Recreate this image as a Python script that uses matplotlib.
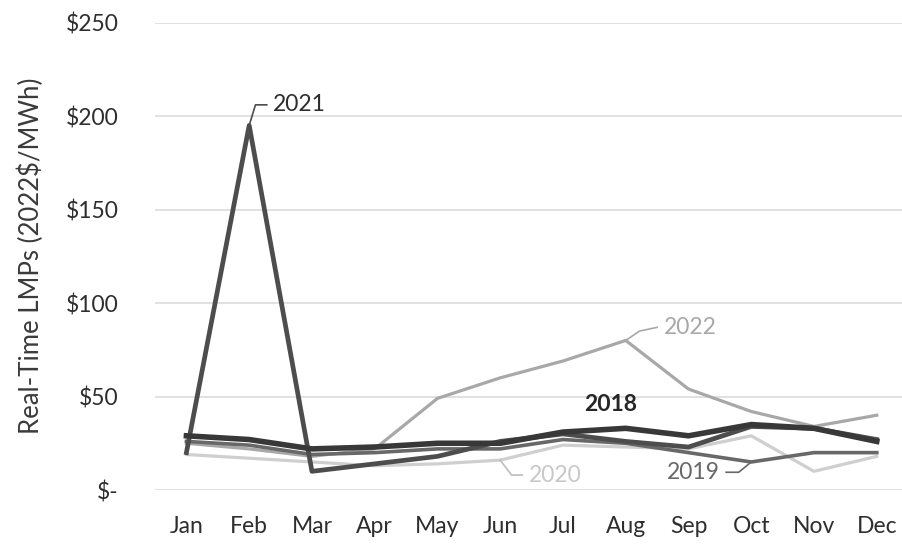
import matplotlib
matplotlib.use("Agg")
import matplotlib.pyplot as plt

plt.rcParams['font.family'] = ['Lato', 'DejaVu Sans']

months = ["Jan", "Feb", "Mar", "Apr", "May", "Jun",
          "Jul", "Aug", "Sep", "Oct", "Nov", "Dec"]

lmp_2018 = [29, 27, 22, 23, 25, 25, 31, 33, 29, 35, 33, 26]
lmp_2019 = [26, 24, 19, 20, 22, 22, 27, 25, 20, 15, 20, 20]
lmp_2020 = [19, 17, 15, 13, 14, 16, 24, 23, 22, 29, 10, 18]
lmp_2021 = [20, 195, 10, 14, 18, 26, 30, 26, 23, 34, 33, 27]
lmp_2022 = [25, 22, 18, 22, 49, 60, 69, 80, 54, 42, 34, 40]

y_ticks = [0, 50, 100, 150, 200, 250]
y_tick_labels = ["$-", "$50", "$100", "$150", "$200", "$250"]

fig = plt.figure(figsize=(9.03, 5.48), dpi=100)
ax = fig.add_axes([0.1717, 0.1058, 0.834, 0.853])

x = list(range(len(months)))

# lighter series first so darker ones sit on top
ax.plot(x, lmp_2020, color="#cfcfcf", lw=2.3, solid_joinstyle="round", zorder=3)
ax.plot(x, lmp_2022, color="#a8a8a8", lw=2.3, solid_joinstyle="round", zorder=4)
ax.plot(x, lmp_2019, color="#686868", lw=2.6, solid_joinstyle="round", zorder=5)
ax.plot(x, lmp_2021, color="#4d4d4d", lw=3.4, solid_joinstyle="round", zorder=6)
ax.plot(x, lmp_2018, color="#383838", lw=4.0, solid_joinstyle="round", zorder=7)

ax.set_xlim(-0.5, 11.5)
ax.set_ylim(0, 250)
ax.set_xticks(x)
ax.set_xticklabels(months, fontsize=16.5, color="#2e2e2e")
ax.set_yticks(y_ticks)
ax.set_yticklabels(y_tick_labels, fontsize=16.5, color="#2e2e2e")
ax.tick_params(axis="both", length=0)
ax.tick_params(axis="y", pad=26)
ax.tick_params(axis="x", pad=19)

ax.grid(axis="y", color="#d9d9d9", lw=1.1, zorder=0)
ax.grid(axis="x", visible=False)
for s in ax.spines.values():
    s.set_visible(False)

ax.set_ylabel("Real-Time LMPs (2022$/MWh)", fontsize=18.5, color="#3a3a3a", labelpad=16)

# series labels with leader lines
def leader(xs, ys, color):
    ax.plot(xs, ys, color=color, lw=1.2, zorder=8, clip_on=False)

leader([1, 1.1, 1.28], [lmp_2021[1], 206, 206], "#4d4d4d")
ax.text(1.38, 206, "2021", fontsize=16.5, color="#2e2e2e", va="center", ha="left")

leader([7, 7.22, 7.5], [lmp_2022[7], 85, 87], "#a8a8a8")
ax.text(7.6, 87, "2022", fontsize=16.5, color="#a8a8a8", va="center", ha="left")

ax.text(6.76, 46, "2018", fontsize=16.5, color="#262626", va="center", ha="center",
        fontweight="bold")

leader([9, 8.8, 8.6], [lmp_2019[9], 9.5, 9.5], "#686868")
ax.text(8.5, 9.5, "2019", fontsize=16.5, color="#686868", va="center", ha="right")

leader([5, 5.18, 5.35], [lmp_2020[5], 8, 8], "#bdbdbd")
ax.text(5.45, 8, "2020", fontsize=16.5, color="#c8c8c8", va="center", ha="left")

fig.savefig("out.png", dpi=100, facecolor="white")
